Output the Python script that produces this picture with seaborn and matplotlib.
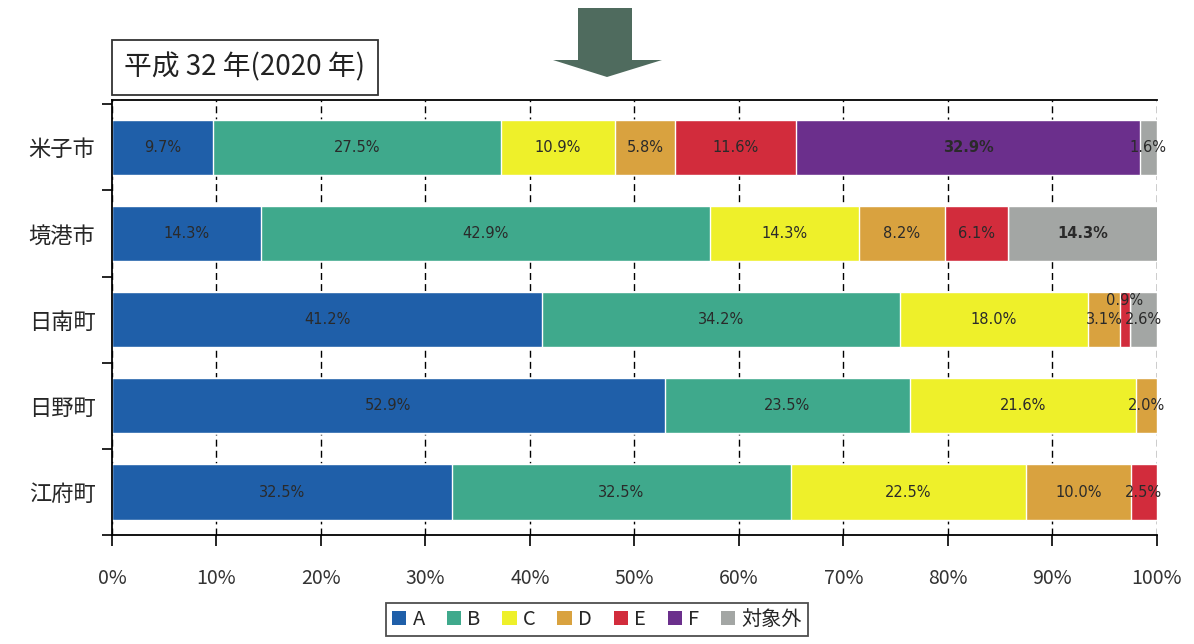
import numpy as np
import pandas as pd
import matplotlib
matplotlib.use('Agg')
import matplotlib.pyplot as plt
from matplotlib.patches import Polygon, Patch
import seaborn as sns

# data
towns = ['米子市', '境港市', '日南町', '日野町', '江府町']
groups = ['A', 'B', 'C', 'D', 'E', 'F', '対象外']
val_A = [9.7, 14.3, 41.2, 52.9, 32.5]
val_B = [27.5, 42.9, 34.2, 23.5, 32.5]
val_C = [10.9, 14.3, 18.0, 21.6, 22.5]
val_D = [5.8, 8.2, 3.1, 2.0, 10.0]
val_E = [11.6, 6.1, 0.9, 0.0, 2.5]
val_F = [32.9, 0.0, 0.0, 0.0, 0.0]
val_X = [1.6, 14.3, 2.6, 0.0, 0.0]
x_ticks = [0, 10, 20, 30, 40, 50, 60, 70, 80, 90, 100]
title_text = '平成 32 年(2020 年)'

colors = ['#1f5fa9', '#3fa98c', '#eef02a', '#d9a23f', '#d22c3c', '#6b2f8c', '#a3a6a4']

df = pd.DataFrame({'town': towns, 'A': val_A, 'B': val_B, 'C': val_C, 'D': val_D,
                   'E': val_E, 'F': val_F, '対象外': val_X})
cum = df[groups].cumsum(axis=1)

sns.set_theme(style='white')
plt.rcParams['font.family'] = ['Noto Sans CJK JP', 'DejaVu Sans']

fig = plt.figure(figsize=(11.94, 6.44), dpi=100)
ax = fig.add_axes([0.0938, 0.169, 0.875, 0.676])

# stacked bars: draw cumulative totals from last group to first
for g, c in zip(groups[::-1], colors[::-1]):
    sns.barplot(x=cum[g], y=df['town'], color=c, orient='h', width=0.64,
                saturation=1, ax=ax, zorder=2)

# segment labels
for i in range(len(towns)):
    for g in groups:
        v = df.loc[i, g]
        if v <= 0:
            continue
        xc = cum.loc[i, g] - v / 2
        yc = i
        bold = (g == 'F') or (g == '対象外' and v > 10)
        if g == 'E' and v < 1.5:
            yc = i - 0.22
        ax.text(xc, yc, f'{v:.1f}%', ha='center', va='center', fontsize=10.5,
                color='#2a2a2a', fontweight='bold' if bold else 'normal',
                family=['DejaVu Sans'], zorder=5)

ax.set_xlim(0, 100)
ax.set_ylim(4.5, -0.55)
ax.set_xticks(x_ticks)
ax.set_xticklabels([f'{t}%' for t in x_ticks], fontsize=14, color='#333333')
ax.set_xlabel('')
ax.set_ylabel('')
ax.tick_params(axis='y', labelsize=16, length=0, pad=12)
ax.set_yticks(np.arange(-0.5, 5, 1.0), minor=True)
ax.tick_params(axis='y', which='minor', length=7, width=1.2, color='black', direction='out', left=True)
ax.tick_params(axis='x', length=8, width=1.2, color='black', direction='out', bottom=True, pad=16)
ax.grid(axis='x', color='black', linestyle=(0, (5, 3)), linewidth=1.0, zorder=0)
ax.set_axisbelow(True)
for s in ax.spines.values():
    s.set_color('black')
    s.set_linewidth(1.3)
ax.spines['right'].set_visible(False)

# title box
fig.text(0.104, 0.895, title_text, fontsize=20, ha='left', va='center', color='#222222',
         bbox=dict(boxstyle='square,pad=0.45', facecolor='white', edgecolor='#333333', linewidth=1.3))

# arrow
W, H = 1194, 644
pts = [(578, 8), (632, 8), (632, 60), (662, 60), (607, 77), (553, 60), (578, 60)]
arrow = Polygon([(x / W, 1 - y / H) for x, y in pts], closed=True, transform=fig.transFigure,
                facecolor='#4f6b5e', edgecolor='none')
fig.patches.append(arrow)

# legend
handles = [Patch(facecolor=c, edgecolor='none', label=g) for g, c in zip(groups, colors)]
leg = fig.legend(handles=handles, loc='center', bbox_to_anchor=(0.5, 0.038), ncol=7,
                 fontsize=14.5, frameon=True, fancybox=False, handlelength=0.7, handleheight=0.7,
                 handletextpad=0.3, columnspacing=1.1, borderpad=0.3)
leg.get_frame().set_edgecolor('#222222')
leg.get_frame().set_linewidth(1.3)

fig.savefig('out.png', dpi=100)
